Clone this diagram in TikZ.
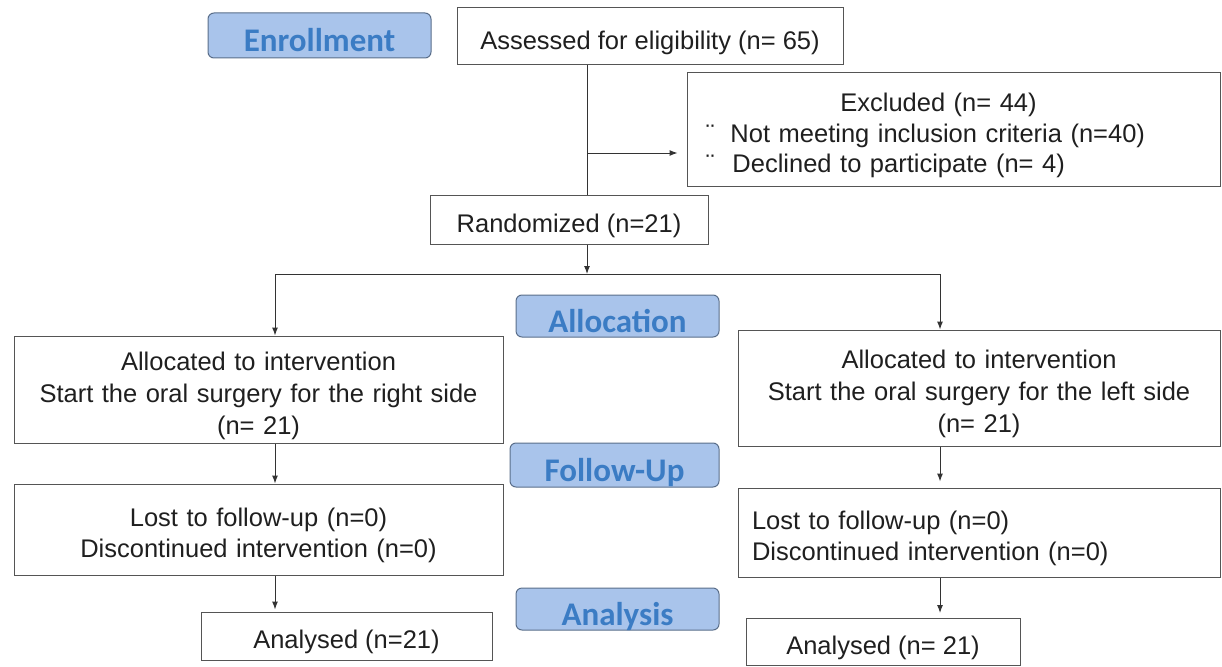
\documentclass[tikz,border=0pt]{standalone}
\usepackage{fontspec}
\setmainfont{Liberation Sans}
\newfontfamily\stagefont{Carlito}
\usetikzlibrary{arrows.meta}
\definecolor{stagefill}{HTML}{A9C4EB}
\definecolor{stagetext}{HTML}{3B7CC4}
\definecolor{stageline}{HTML}{5A6E8A}
\definecolor{boxline}{HTML}{555555}

\begin{document}
\begin{tikzpicture}[x=1pt, y=-1pt, >={Latex[length=8pt,width=6pt]},
  box/.style={draw=boxline, line width=1pt, inner sep=0pt, text=black!88,
    font=\fontsize{25.5}{32}\selectfont, align=center,
    execute at begin node={\rule{0pt}{31pt}}},
  stage/.style={draw=stageline, fill=stagefill, rounded corners=6pt,
    line width=1pt, inner sep=0pt, text=stagetext, text height=33pt, text depth=0pt,
    font=\stagefont\bfseries\fontsize{33}{33}\selectfont},
  link/.style={draw=black!80, line width=1pt}]

  \useasboundingbox (0,0) rectangle (1222,666);

  % Stage labels
  \node[stage, minimum width=223pt, minimum height=45pt] (enroll) at (319.5,35.5) {Enrollment};
  \node[stage, minimum width=203pt, minimum height=42pt] (alloc) at (617.5,316) {Allocation};
  \node[stage, minimum width=209pt, minimum height=44pt] (follow) at (614.5,465) {Follow-Up};
  \node[stage, minimum width=203pt, minimum height=42pt] (analysis) at (617.5,609) {Analysis};

  % Enrollment
  \node[box, minimum width=386pt, minimum height=57pt] (assessed) at (650,36.5) {Assessed for eligibility (n= 65)};
  \node[box, minimum width=533pt, minimum height=113pt, align=left, text width=495pt] (excl) at (953.5,129.5)
    {\makebox[465pt][c]{Excluded (n= 44)}\\[-1.5pt]
     ¨\hspace{16pt}Not meeting inclusion criteria (n=40)\\[-1.5pt]
     ¨\hspace{18pt}Declined to participate (n= 4)};
  \node[box, minimum width=278pt, minimum height=49pt] (random) at (569,219.5) {Randomized (n=21)};

  % Allocation
  \node[box, minimum width=489pt, minimum height=107pt, text width=489pt] (allocL) at (258.5,389.5)
    {Allocated to intervention\\ Start the oral surgery for the right side\\ (n= 21)};
  \node[box, minimum width=482pt, minimum height=116pt, text width=482pt] (allocR) at (979,388)
    {Allocated to intervention\\ Start the oral surgery for the left side\\ (n= 21)};

  % Follow-Up
  \node[box, minimum width=489pt, minimum height=91pt, text width=489pt] (followL) at (258.5,529.5)
    {Lost to follow-up (n=0)\\[-1pt] Discontinued intervention (n=0)};
  \node[box, minimum width=482pt, minimum height=89pt, align=left, text width=454pt] (followR) at (979,532.5)
    {Lost to follow-up (n=0)\\[-1pt] Discontinued intervention (n=0)};

  % Analysis
  \node[box, minimum width=291pt, minimum height=48pt] (analysL) at (346.5,636) {Analysed (n=21)};
  \node[box, minimum width=274pt, minimum height=47pt] (analysR) at (883,642) {Analysed (n= 21)};

  % Connectors
  \coordinate (split) at (587,153);
  \coordinate (fork) at (587,274);
  \coordinate (forkL) at (275,274);
  \coordinate (forkR) at (940,274);
  \draw[link] (assessed.south -| split) -- (random.north -| split);
  \draw[link, ->, shorten >=9pt] (split) -- (split -| excl.west);
  \draw[link, ->] (random.south -| fork) -- (fork);
  \draw[link] (forkL) -- (forkR);
  \draw[link, ->] (forkL) -- (allocL.north -| forkL);
  \draw[link, ->] (forkR) -- (allocR.north -| forkR);
  \draw[link, ->] (allocL.south -| forkL) -- (followL.north -| forkL);
  \draw[link, ->, shorten >=6pt] (allocR.south -| forkR) -- (followR.north -| forkR);
  \draw[link, ->, shorten >=2pt] (followL.south -| forkL) -- (analysL.north -| forkL);
  \draw[link, ->, shorten >=5pt] (followR.south -| forkR) -- (analysR.north -| forkR);

\end{tikzpicture}
\end{document}
